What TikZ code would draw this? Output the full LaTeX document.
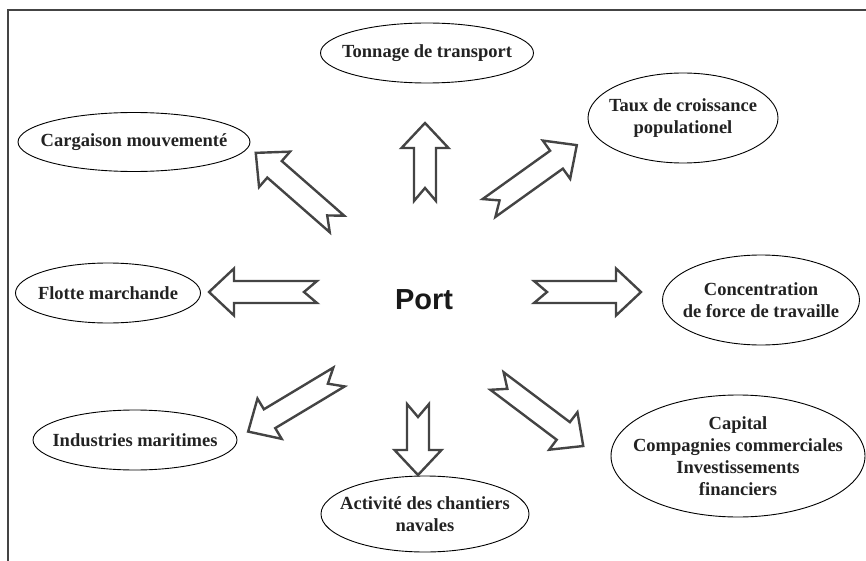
\documentclass[tikz,border=0pt]{standalone}
\usepackage{fontspec}
\setmainfont{Liberation Serif}
\newfontfamily\portfont{Liberation Sans}
\usetikzlibrary{shapes.geometric}
\definecolor{arrowgray}{HTML}{444444}
\definecolor{textdark}{HTML}{222222}
\tikzset{
  bubbletext/.style={inner sep=0pt, align=center,
    text=textdark, font=\fontsize{18.5}{22}\selectfont\bfseries},
  bubbleline/.style={draw=black, line width=0.9pt},
  arrowline/.style={draw=arrowgray, line width=2.4pt, line join=miter, fill=white},
  pics/barrow/.style={code={
    \draw[arrowline] (0,11) -- ({#1-25},11) -- ({#1-25},23.5) -- (#1,0)
      -- ({#1-25},-23.5) -- ({#1-25},-11) -- (0,-11) -- (13,0) -- cycle;
  }}
}
\begin{document}
\begin{tikzpicture}[x=1pt,y=-1pt]
\useasboundingbox (0,0) rectangle (866,561);
\draw[arrowgray, line width=1.3pt] (8,561) -- (8,10) -- (866,10);

\node[bubbletext] (tonnage) at (427,53) {Tonnage de transport};
\node[bubbletext] (taux) at (683,118) {Taux de croissance\\populationel};
\node[bubbletext] (cargaison) at (134,142) {Cargaison mouvementé};
\node[bubbletext] (flotte) at (108,293) {Flotte marchande};
\node[bubbletext] (concentration) at (761,300) {Concentration\\de force de travaille};
\node[bubbletext] (industries) at (135,440) {Industries maritimes};
\node[bubbletext] (capital) at (738,456) {Capital\\Compagnies commerciales\\Investissements\\financiers};
\node[bubbletext] (chantiers) at (425,514) {Activité des chantiers\\navales};

\draw[bubbleline] (tonnage.center) ellipse [x radius=106.5, y radius=30];
\draw[bubbleline] (taux.center) ellipse [x radius=95, y radius=45];
\draw[bubbleline] (cargaison.center) ellipse [x radius=116, y radius=29.5];
\draw[bubbleline] (flotte.center) ellipse [x radius=92.5, y radius=30];
\draw[bubbleline] (concentration.center) ellipse [x radius=98.5, y radius=45];
\draw[bubbleline] (industries.center) ellipse [x radius=102, y radius=30];
\draw[bubbleline] (capital.center) ellipse [x radius=127, y radius=61];
\draw[bubbleline] (chantiers.center) ellipse [x radius=104, y radius=38];

\node[font=\portfont\bfseries\fontsize{29}{33}\selectfont, text=black!90] (port) at (424,300) {Port};

\coordinate (aup) at (425,201);
\coordinate (adown) at (418,404);
\coordinate (aleft) at (317,292);
\coordinate (aright) at (534,292);
\coordinate (anw) at (337,224);
\coordinate (ane) at (489,208);
\coordinate (asw) at (339,377);
\coordinate (ase) at (497,381);

\pic[rotate=90] at (aup) {barrow=78};
\pic[rotate=-90] at (adown) {barrow=71};
\pic[rotate=180] at (aleft) {barrow=108};
\pic[rotate=0] at (aright) {barrow=107};
\pic[rotate=138.8] at (anw) {barrow=108};
\pic[rotate=35.6] at (ane) {barrow=108};
\pic[rotate=211] at (asw) {barrow=106};
\pic[rotate=-37] at (ase) {barrow=108};
\end{tikzpicture}
\end{document}
